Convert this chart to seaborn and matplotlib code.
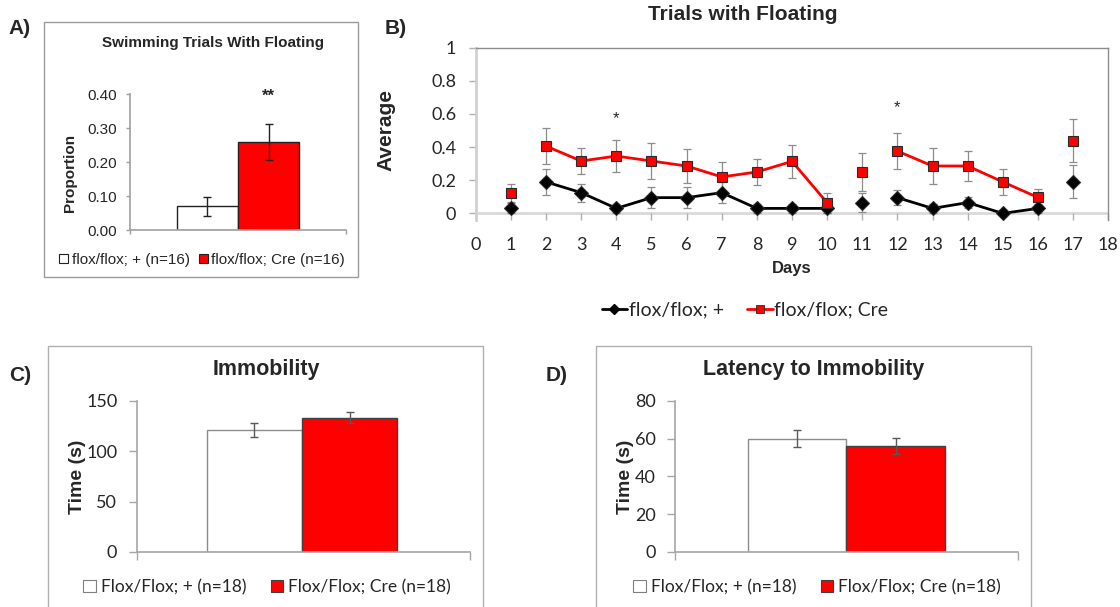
import numpy as np
import pandas as pd
import matplotlib
matplotlib.use("Agg")
import matplotlib.pyplot as plt
import seaborn as sns
from matplotlib.lines import Line2D
from matplotlib.patches import Patch, Rectangle

# Figure size in pixels
W, H = 1120, 607

# Panel A: swimming trials with floating
A_GROUPS = ["flox/flox; + (n=16)", "flox/flox; Cre (n=16)"]
A_MEAN = [0.07, 0.26]
A_SEM = [0.028, 0.053]

# Panel B: trials with floating per day
B_DAYS = list(range(1, 18))
B_CTRL = [0.03, 0.19, 0.125, 0.03, 0.095, 0.095, 0.125, 0.03, 0.03,
          0.03, 0.065, 0.095, 0.03, 0.065, 0.0, 0.03, 0.19]
B_CTRL_SEM = [0.03, 0.077, 0.055, 0.028, 0.065, 0.065, 0.065, 0.028, 0.028,
              0.028, 0.055, 0.047, 0.028, 0.035, 0.0, 0.028, 0.1]
B_CRE = [0.125, 0.406, 0.316, 0.346, 0.316, 0.286, 0.22, 0.25, 0.314,
         0.064, 0.25, 0.376, 0.286, 0.286, 0.19, 0.096, 0.438]
B_CRE_SEM = [0.055, 0.11, 0.076, 0.098, 0.107, 0.1, 0.092, 0.08, 0.1,
             0.06, 0.112, 0.108, 0.11, 0.09, 0.078, 0.05, 0.13]
B_SERIES = ["flox/flox; +", "flox/flox; Cre"]
B_BREAK_AFTER = [1, 10, 11, 16]  # line is interrupted after these days
B_STAR_DAYS = [4, 12]
B_STAR_Y = [0.573, 0.64]

# Panel C: immobility
C_GROUPS = ["Flox/Flox; + (n=18)", "Flox/Flox; Cre (n=18)"]
C_MEAN = [121, 133]
C_SEM = [7, 5.6]

# Panel D: latency to immobility
D_GROUPS = ["Flox/Flox; + (n=18)", "Flox/Flox; Cre (n=18)"]
D_MEAN = [60, 56]
D_SEM = [4.7, 4.4]

sns.set_style("white")
plt.rcParams["font.family"] = ["Liberation Sans", "DejaVu Sans"]
CAL = ["Lato", "DejaVu Sans"]


def px_rect(l, t, r, b):
    return [l / W, 1 - b / H, (r - l) / W, (b - t) / H]


def fx(x):
    return x / W


def fy(y):
    return 1 - y / H


def frame(fig, l, t, r, b, color="#a6a6a6"):
    fig.add_artist(Rectangle((fx(l), fy(b)), (r - l) / W, (b - t) / H,
                             transform=fig.transFigure, fill=False,
                             edgecolor=color, linewidth=1.0))


def bar_panel(ax, groups, means, sems, edges, err_color, xlim, ylim, yticks,
              labels, fam, fsize, tick_len, pad, axis_color):
    df = pd.DataFrame({"group": groups, "value": means})
    sns.barplot(data=df, x="group", y="value", hue="group", order=groups,
                hue_order=groups, palette=["white", "#ff0000"], width=1.0,
                saturation=1, errorbar=None, legend=False, ax=ax)
    for patch, ec in zip(ax.patches, edges):
        patch.set_edgecolor(ec)
        patch.set_linewidth(1.0)
    ax.errorbar(range(len(groups)), means, yerr=sems, fmt="none",
                ecolor=err_color, elinewidth=1.0, capsize=3, capthick=1.0)
    ax.set_xlim(*xlim)
    ax.set_ylim(*ylim)
    ax.set_yticks(yticks)
    ax.set_yticklabels(labels, fontfamily=fam, fontsize=fsize)
    ax.set_xticks([xlim[0], xlim[1]])
    ax.set_xticklabels(["", ""])
    ax.set_xlabel("")
    ax.set_ylabel("")
    for s in ["top", "right"]:
        ax.spines[s].set_visible(False)
    for s in ["left", "bottom"]:
        ax.spines[s].set_color(axis_color)
        ax.spines[s].set_linewidth(1.2)
    ax.tick_params(axis="y", direction="out", length=tick_len, width=1,
                   color=axis_color, pad=pad, left=True)
    ax.tick_params(axis="x", direction="out", length=tick_len, width=1,
                   color=axis_color, bottom=True)
    ax.set_facecolor("none")


fig = plt.figure(figsize=(W / 100, H / 100), dpi=100)

# ---------------- Panel A ----------------
frame(fig, 44, 22, 358, 277, "#9a9a9a")
axA = fig.add_axes(px_rect(130, 94, 346, 230))
bar_panel(axA, A_GROUPS, A_MEAN, A_SEM, ["#222222", "#222222"], "#222222",
          (-1.27, 2.27), (0, 0.4), [0, 0.1, 0.2, 0.3, 0.4],
          ["0.00", "0.10", "0.20", "0.30", "0.40"], ["Liberation Sans"], 11,
          3, 6, "#a0a0a0")
axA.text(1, 0.392, "**", ha="center", va="center", fontsize=12, fontweight="bold")
fig.text(fx(8), fy(19), "A)", ha="left", va="top", fontsize=15, fontweight="bold")
fig.text(fx(213), fy(43), "Swimming Trials With Floating", ha="center",
         va="center", fontsize=11, fontweight="bold")
fig.text(fx(70), fy(173), "Proportion", ha="center", va="center",
         rotation=90, fontsize=11, fontweight="bold")
handlesA = [Patch(facecolor="white", edgecolor="#222222", lw=0.8),
            Patch(facecolor="#ff0000", edgecolor="#222222", lw=0.8)]
fig.legend(handlesA, A_GROUPS, loc="center", bbox_to_anchor=(fx(202), fy(260)),
           ncol=2, frameon=False, fontsize=11, handlelength=0.6,
           handleheight=0.6, handletextpad=0.2, columnspacing=0.6)

# ---------------- Panel B ----------------
axB = fig.add_axes(px_rect(475.8, 47.7, 1108.2, 220))
run = np.searchsorted(B_BREAK_AFTER, B_DAYS, side="left")
dfB = pd.DataFrame({
    "day": B_DAYS * 2,
    "value": B_CTRL + B_CRE,
    "series": [B_SERIES[0]] * len(B_DAYS) + [B_SERIES[1]] * len(B_DAYS),
    "run": list(run) * 2,
})
for vals, sems in [(B_CTRL, B_CTRL_SEM), (B_CRE, B_CRE_SEM)]:
    axB.errorbar(B_DAYS, vals, yerr=sems, fmt="none", ecolor="#8c8c8c",
                 elinewidth=0.9, capsize=3, capthick=0.9, zorder=1)
sns.lineplot(data=dfB, x="day", y="value", hue="series", style="series",
             units="run", estimator=None, palette=["black", "#ff0000"],
             markers=["D", "s"], dashes=False, linewidth=2, markersize=7,
             markeredgecolor="#2a2a2a", markeredgewidth=0.8, legend=False,
             ax=axB, zorder=3)
axB.axhline(0, color="#d9d9d9", lw=2, zorder=0)
for d, y in zip(B_STAR_DAYS, B_STAR_Y):
    axB.text(d, y, "*", ha="center", va="center", fontsize=12)
axB.set_xlim(0, 18)
axB.set_ylim(-0.04, 1)
axB.set_xticks(range(0, 19))
axB.set_xticklabels([str(i) for i in range(0, 19)], fontfamily=CAL, fontsize=13)
axB.set_yticks([0, 0.2, 0.4, 0.6, 0.8, 1.0])
axB.set_yticklabels(["0", "0.2", "0.4", "0.6", "0.8", "1"], fontfamily=CAL,
                    fontsize=13)
axB.set_xlabel("")
axB.set_ylabel("")
axB.spines["bottom"].set_visible(False)
for s in ["top", "right"]:
    axB.spines[s].set_color("#8c8c8c")
    axB.spines[s].set_linewidth(1.0)
axB.spines["left"].set_color("#d0d0d0")
axB.spines["left"].set_linewidth(2)
axB.tick_params(axis="x", direction="in", length=5, width=1, color="#b0b0b0",
                pad=12, bottom=True)
axB.tick_params(axis="y", direction="out", length=5, width=1, color="#b0b0b0",
                pad=9, left=True)
axB.set_facecolor("none")
fig.text(fx(385), fy(19), "B)", ha="left", va="top", fontsize=15, fontweight="bold")
fig.text(fx(743), fy(15), "Trials with Floating", ha="center", va="center",
         fontsize=15, fontweight="bold")
fig.text(fx(386), fy(130), "Average", ha="center", va="center", rotation=90,
         fontsize=15, fontweight="bold")
fig.text(fx(792), fy(269), "Days", ha="center", va="center", fontsize=12,
         fontweight="bold")
handlesB = [Line2D([], [], color="black", lw=2, marker="D", markersize=5),
            Line2D([], [], color="#ff0000", lw=2, marker="s", markersize=6,
                   markeredgecolor="#2a2a2a", markeredgewidth=0.6)]
fig.legend(handlesB, B_SERIES, loc="center", bbox_to_anchor=(fx(745), fy(310)),
           ncol=2, frameon=False, prop={"family": CAL, "size": 14},
           handlelength=1.3, handletextpad=0.1, columnspacing=1.2)

# ---------------- Panel C ----------------
frame(fig, 47.5, 346, 483, 612, "#b0b0b0")
axC = fig.add_axes(px_rect(136.8, 400.7, 469.6, 552))
bar_panel(axC, C_GROUPS, C_MEAN, C_SEM, ["#8c8c8c", "#404040"], "#595959",
          (-1.235, 2.26), (0, 150), [0, 50, 100, 150],
          ["0", "50", "100", "150"], CAL, 13, 6, 8, "#a6a6a6")
fig.text(fx(9), fy(366), "C)", ha="left", va="top", fontsize=15, fontweight="bold")
fig.text(fx(266), fy(370), "Immobility", ha="center", va="center",
         fontsize=15.5, fontweight="bold")
fig.text(fx(77), fy(477), "Time (s)", ha="center", va="center", rotation=90,
         fontsize=14, fontweight="bold")
handlesC = [Patch(facecolor="white", edgecolor="#7f7f7f", lw=0.8),
            Patch(facecolor="#ff0000", edgecolor="#404040", lw=0.8)]
fig.legend(handlesC, C_GROUPS, loc="center", bbox_to_anchor=(fx(267), fy(587)),
           ncol=2, frameon=False, prop={"family": CAL, "size": 12.5},
           handlelength=0.7, handleheight=0.7, handletextpad=0.3,
           columnspacing=1.4)

# ---------------- Panel D ----------------
frame(fig, 596, 346, 1031.4, 612, "#b0b0b0")
axD = fig.add_axes(px_rect(675, 400.7, 1018, 552))
bar_panel(axD, D_GROUPS, D_MEAN, D_SEM, ["#8c8c8c", "#404040"], "#595959",
          (-1.245, 2.247), (0, 80), [0, 20, 40, 60, 80],
          ["0", "20", "40", "60", "80"], CAL, 13, 6, 8, "#a6a6a6")
fig.text(fx(546), fy(366), "D)", ha="left", va="top", fontsize=15, fontweight="bold")
fig.text(fx(813.6), fy(370), "Latency to Immobility", ha="center",
         va="center", fontsize=15.5, fontweight="bold")
fig.text(fx(626), fy(477), "Time (s)", ha="center", va="center", rotation=90,
         fontsize=14, fontweight="bold")
handlesD = [Patch(facecolor="white", edgecolor="#7f7f7f", lw=0.8),
            Patch(facecolor="#ff0000", edgecolor="#404040", lw=0.8)]
fig.legend(handlesD, D_GROUPS, loc="center", bbox_to_anchor=(fx(817), fy(587)),
           ncol=2, frameon=False, prop={"family": CAL, "size": 12.5},
           handlelength=0.7, handleheight=0.7, handletextpad=0.3,
           columnspacing=1.4)

fig.savefig("out.png", dpi=100, facecolor="white")
